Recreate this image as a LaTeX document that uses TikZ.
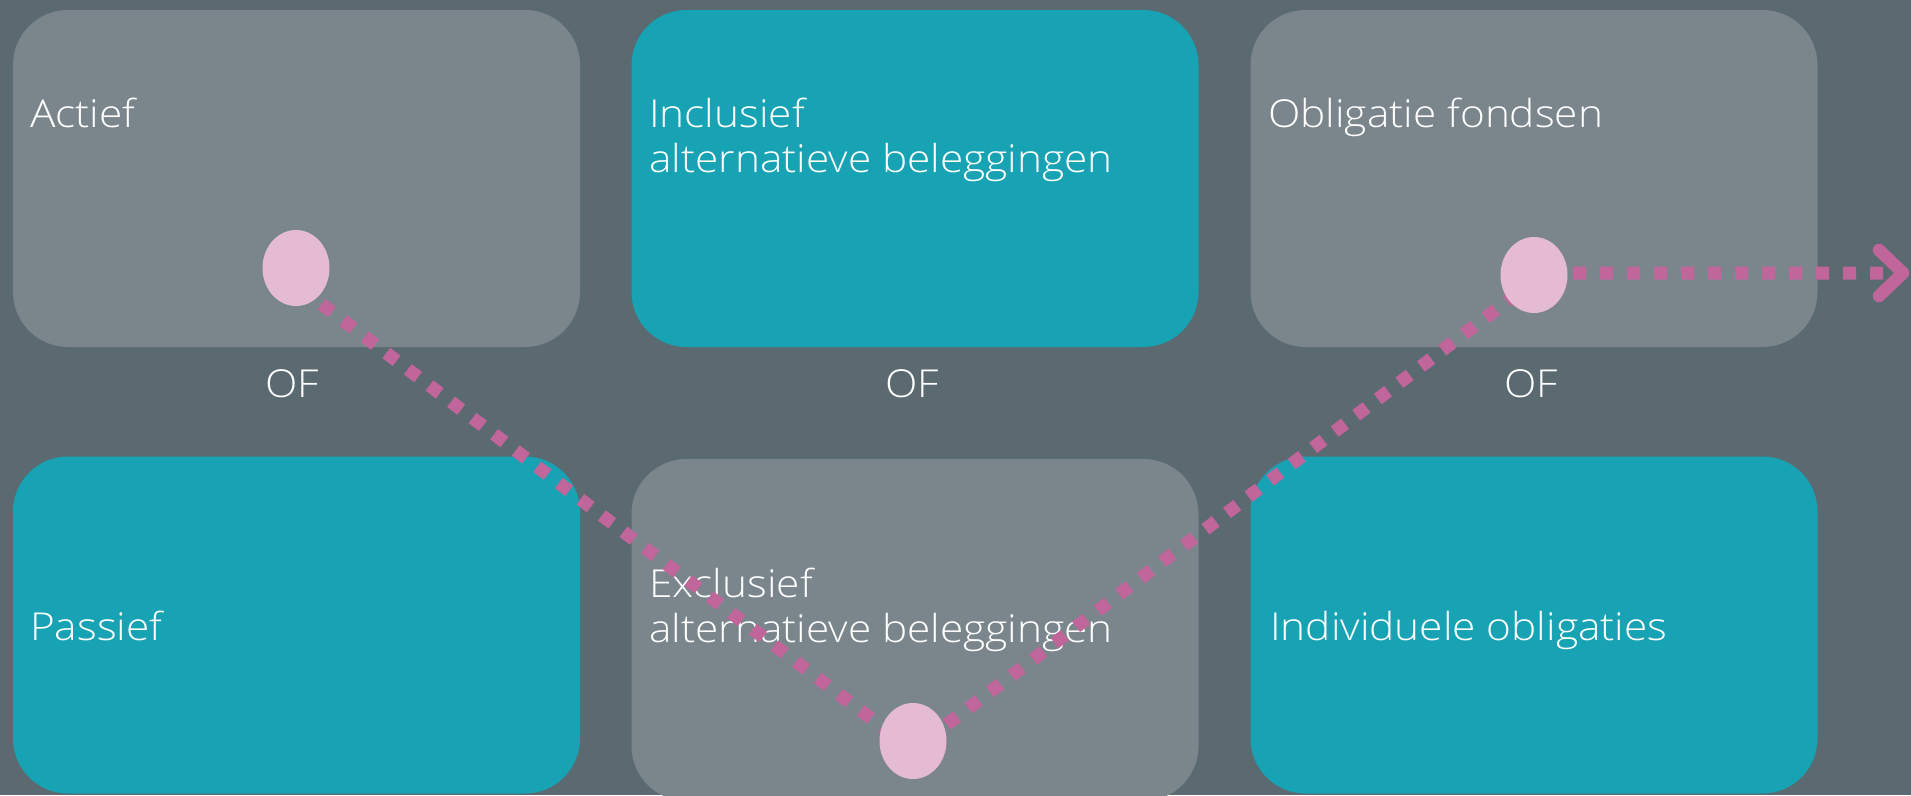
\documentclass[tikz,border=0pt]{standalone}
\usepackage{fontspec}
\setmainfont{Open Sans Light}[FakeStretch=1.10]
\usetikzlibrary{shapes.geometric,calc}
\definecolor{bgslate}{HTML}{5B6970}
\definecolor{panelgrey}{HTML}{7B868C}
\definecolor{panelteal}{HTML}{17A3B3}
\definecolor{markerpink}{HTML}{E5BBD4}
\definecolor{dotpink}{HTML}{C0669A}
\begin{document}
\begin{tikzpicture}[x=1pt,y=-1pt,
  panel/.style={rectangle, rounded corners=55pt, minimum width=567pt,
    minimum height=337pt, inner sep=0pt, draw=none},
  greypanel/.style={panel, fill=panelgrey},
  tealpanel/.style={panel, fill=panelteal},
  caption/.style={text=white, font=\fontsize{38.5}{45}\selectfont,
    inner sep=0pt, anchor=base west, align=left},
  ortext/.style={text=white, font=\fontsize{38.5}{45}\selectfont,
    inner sep=0pt, anchor=base},
  pathdots/.style={draw=dotpink, line width=13pt,
    dash pattern=on 13pt off 14pt},
  marker/.style={ellipse, fill=markerpink, minimum width=67pt,
    minimum height=76pt, inner sep=0pt},
  chevron/.style={draw=dotpink, line width=12.5pt, line cap=round,
    line join=round}]

% background
\fill[bgslate] (0,0) rectangle (1911,795);
\useasboundingbox (0,0) rectangle (1911,795);

% panels
\node[greypanel] (actief)    at (296.5,178.5) {};
\node[tealpanel] (inclusief) at (915,178.5)   {};
\node[greypanel] (fondsen)   at (1534,178.5)  {};
\node[tealpanel] (passief)   at (296.5,625)   {};
\node[greypanel, minimum height=342pt] (exclusief) at (915,630) {};
\node[tealpanel] (individ)   at (1534,625)    {};

% panel captions (base anchor = baseline of the last line)
\node[caption] (tActief)    at (30,127)   {Actief};
\node[caption] (tInclusief) at (649,172)  {Inclusief\\alternatieve beleggingen};
\node[caption] (tFondsen)   at (1268,127) {Obligatie fondsen};
\node[caption] (tPassief)   at (30,640)   {Passief};
\node[caption] (tExclusief) at (649,642)  {Exclusief\\alternatieve beleggingen};
\node[caption] (tIndivid)   at (1270,640) {Individuele obligaties};

% "OF" between the rows
\node[ortext] (of1) at (292,397)  {OF};
\node[ortext] (of2) at (912,397)  {OF};
\node[ortext] (of3) at (1531,397) {OF};

% marker centres and the chosen route
\coordinate (c1) at (296,268);
\coordinate (c2) at (913,741);
\coordinate (c3) at (1534,275);
\coordinate (r1) at (300,288);
\coordinate (r2) at (913,750);
\coordinate (r3) at (1534,281);
\coordinate (r4) at (1534,273);
\coordinate (tip) at (1903,273);
\draw[pathdots] (r1) -- (r2) -- (r3) -- (r4) -- (tip);

\node[marker] (m1) at (c1) {};
\node[marker] (m2) at (c2) {};
\node[marker] (m3) at (c3) {};

\draw[chevron] ($(tip)+(-24,-23)$) -- (tip) -- ($(tip)+(-24,23)$);
\end{tikzpicture}
\end{document}
